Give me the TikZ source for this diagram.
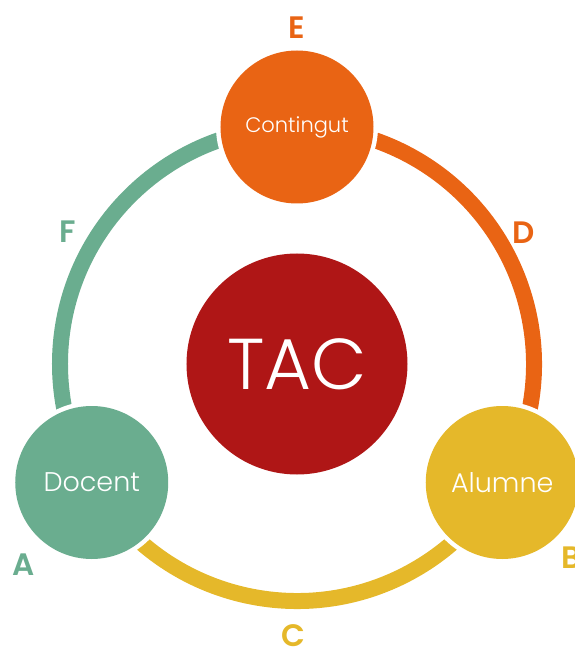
\documentclass[tikz,border=0pt]{standalone}
\usepackage{fontspec}
\setmainfont{Poppins}[UprightFont=* Light, BoldFont=* SemiBold]
\usetikzlibrary{positioning}
\definecolor{tacred}{HTML}{AF1616}
\definecolor{contorange}{HTML}{E96414}
\definecolor{docgreen}{HTML}{6AAD8F}
\definecolor{alumyellow}{HTML}{E5B82A}
\tikzstyle{ring} = [line width=16pt]
\tikzstyle{halo} = [circle, fill=white, minimum size=162pt, inner sep=0pt]
\tikzstyle{actor} = [circle, minimum size=153pt, inner sep=0pt, text=white, font=\fontsize{27}{27}\selectfont]
\tikzstyle{letter} = [font=\fontsize{31}{31}\selectfont\bfseries]

\begin{document}
\begin{tikzpicture}[x=1pt,y=1pt]
			\useasboundingbox (-297,-284) rectangle (277,364);
			
			% Centre
			\node (tac) [circle, fill=tacred, minimum size=221pt, inner sep=0pt, text=white, font=\fontsize{72}{72}\selectfont] at (0,0) {TAC};
			
			% Anell (arcs entre els cercles)
			\draw [ring, docgreen] (tac.center) ++(90:237) arc (90:210:237);
			\draw [ring, alumyellow] (tac.center) ++(210:237) arc (210:330:237);
			\draw [ring, contorange] (tac.center) ++(-30:237) arc (-30:90:237);
			
			% Vores blanques
			\node (h1) [halo] at (90:237) {};
			\node (h2) [halo] at (210:237) {};
			\node (h3) [halo] at (330:237) {};
			
			% Cercles
			\node (contingut) [actor, fill=contorange, font=\fontsize{21}{21}\selectfont] at (90:237) {Contingut};
			\node (docent) [actor, fill=docgreen] at (210:237) {Docent};
			\node (alumne) [actor, fill=alumyellow] at (330:237) {Alumne};
			
			% Lletres
			\node (e) [letter, text=contorange] at (0,336) {E};
			\node (d) [letter, text=contorange] at (227,131) {D};
			\node (f) [letter, text=docgreen] at (-229,132) {F};
			\node (a) [letter, text=docgreen] at (-273,-201) {A};
			\node (b) [letter, text=alumyellow] at (274,-194) {B};
			\node (c) [letter, text=alumyellow] at (-4,-272) {C};
			
\end{tikzpicture}
\end{document}
